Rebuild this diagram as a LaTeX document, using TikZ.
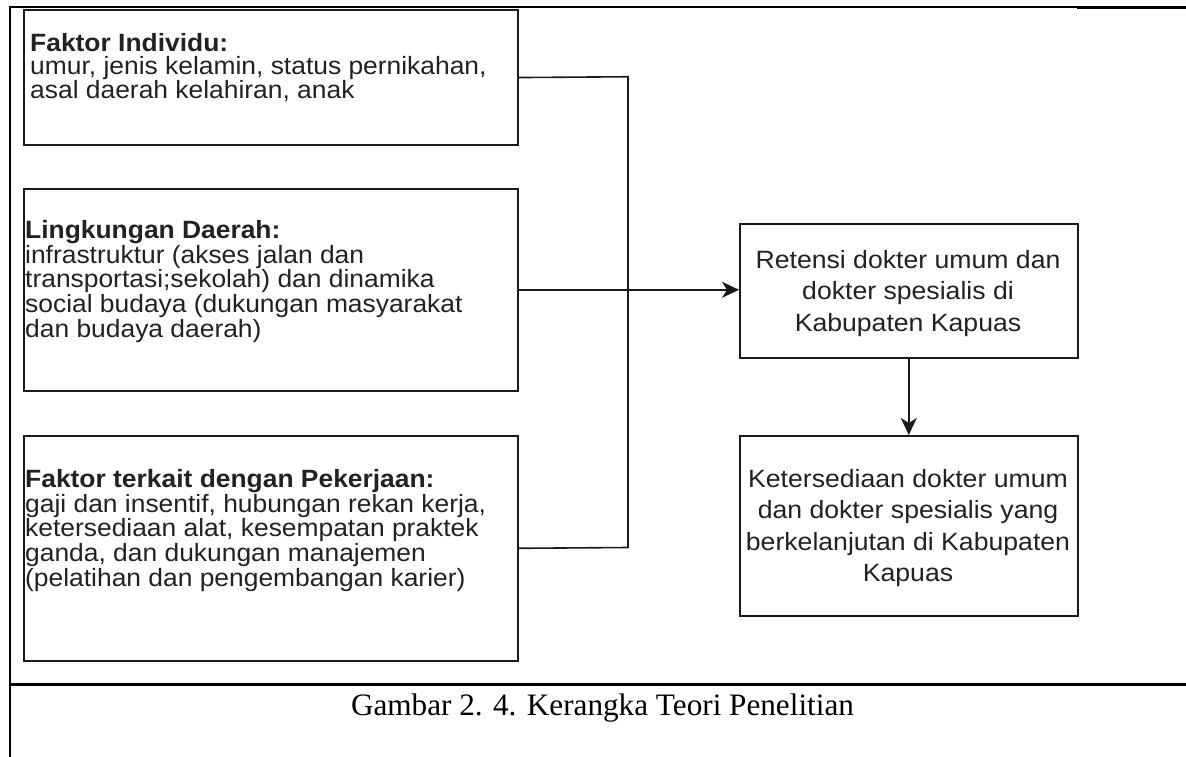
\documentclass[tikz,border=0pt]{standalone}
\usepackage{fontspec}
\setmainfont{Liberation Serif}
\newfontfamily\sidefont[FakeStretch=1.056]{Liberation Sans}
\newfontfamily\mainboxfont[FakeStretch=1.065]{Liberation Sans}
\usetikzlibrary{arrows.meta}

\definecolor{ink}{HTML}{1A1A1A}
\definecolor{boxtext}{HTML}{222222}

% fixed line pitch regardless of glyph heights
\newcommand\fixedpitch{\lineskiplimit -100pt\relax}

\begin{document}
\begin{tikzpicture}[x=1pt,y=-1pt,
  rule/.style={draw=black},
  box/.style={draw=ink, line width=1.6pt, fill=white, inner sep=0pt,
    anchor=north west, minimum width=#1},
  box/.default=494pt,
  sidetext/.style={anchor=north west, inner sep=0pt, align=left, text=boxtext,
    font=\sidefont\fontsize{25}{#1}\selectfont\fixedpitch},
  sidetext/.default=24.8,
  maintext/.style={anchor=north, inner sep=0pt, align=center, text=boxtext,
    font=\mainboxfont\fontsize{25}{31.5}\selectfont\fixedpitch},
  conn/.style={draw=ink, line width=1.6pt},
  arr/.style={conn, -{Stealth[length=17pt, width=16pt, inset=5pt]}}]

\useasboundingbox (0,0) rectangle (1186,757);

% table rules around the figure
\draw[rule, line width=1.3pt] (9,7) -- (1186,7);
\draw[rule, line width=2.5pt] (1077,8) -- (1186,8);
\draw[rule, line width=2.2pt] (10,6) -- (10,757);
\draw[rule, line width=2.4pt] (9,684.5) -- (1186,684.5);

% factor boxes
\node[box, minimum height=134.5pt] (b1) at (23,9.5) {};
\node[box, minimum height=202pt] (b2) at (23,188) {};
\node[box, minimum height=225pt] (b3) at (23,435) {};

% outcome boxes
\node[box=338pt, minimum height=134pt] (r1) at (739,223) {};
\node[box=338pt, minimum height=180pt] (r2) at (739,435) {};

% box texts
\node[sidetext=23.8] (t1) at (30,31) {\rule{0pt}{20pt}\textbf{Faktor Individu:}\\
  umur, jenis kelamin, status pernikahan,\\
  asal daerah kelahiran, anak};
\node[sidetext] (t2) at (25,218) {\rule{0pt}{20pt}\textbf{Lingkungan Daerah:}\\
  infrastruktur (akses jalan dan\\
  transportasi;sekolah) dan dinamika\\
  social budaya (dukungan masyarakat\\
  dan budaya daerah)};
\node[sidetext] (t3) at (25,467) {\rule{0pt}{20pt}\textbf{Faktor terkait dengan Pekerjaan:}\\
  gaji dan insentif, hubungan rekan kerja,\\
  ketersediaan alat, kesempatan praktek\\
  ganda, dan dukungan manajemen\\
  (pelatihan dan pengembangan karier)};

\node[maintext] (t4) at (908,246) {\rule{0pt}{22pt}Retensi dokter umum dan\\
  dokter spesialis di\\
  Kabupaten Kapuas};
\node[maintext] (t5) at (908,465) {\rule{0pt}{22pt}Ketersediaan dokter umum\\
  dan dokter spesialis yang\\
  berkelanjutan di Kabupaten\\
  Kapuas};

% connectors
\coordinate (bustop) at (628,76.75);
\coordinate (busbot) at (628,547.5);
\draw[conn] (b1.east) -- (bustop) -- (busbot) -- (b3.east);
\draw[arr] (b2.east) -- (b2.east -| r1.west);
\draw[arr] (r1.south) -- (r2.north);

% caption
\node[anchor=base, inner sep=0pt, font=\fontsize{31.2}{37}\selectfont] (cap) at (602.5,715)
  {Gambar 2. 4. Kerangka Teori Penelitian};

\end{tikzpicture}
\end{document}
